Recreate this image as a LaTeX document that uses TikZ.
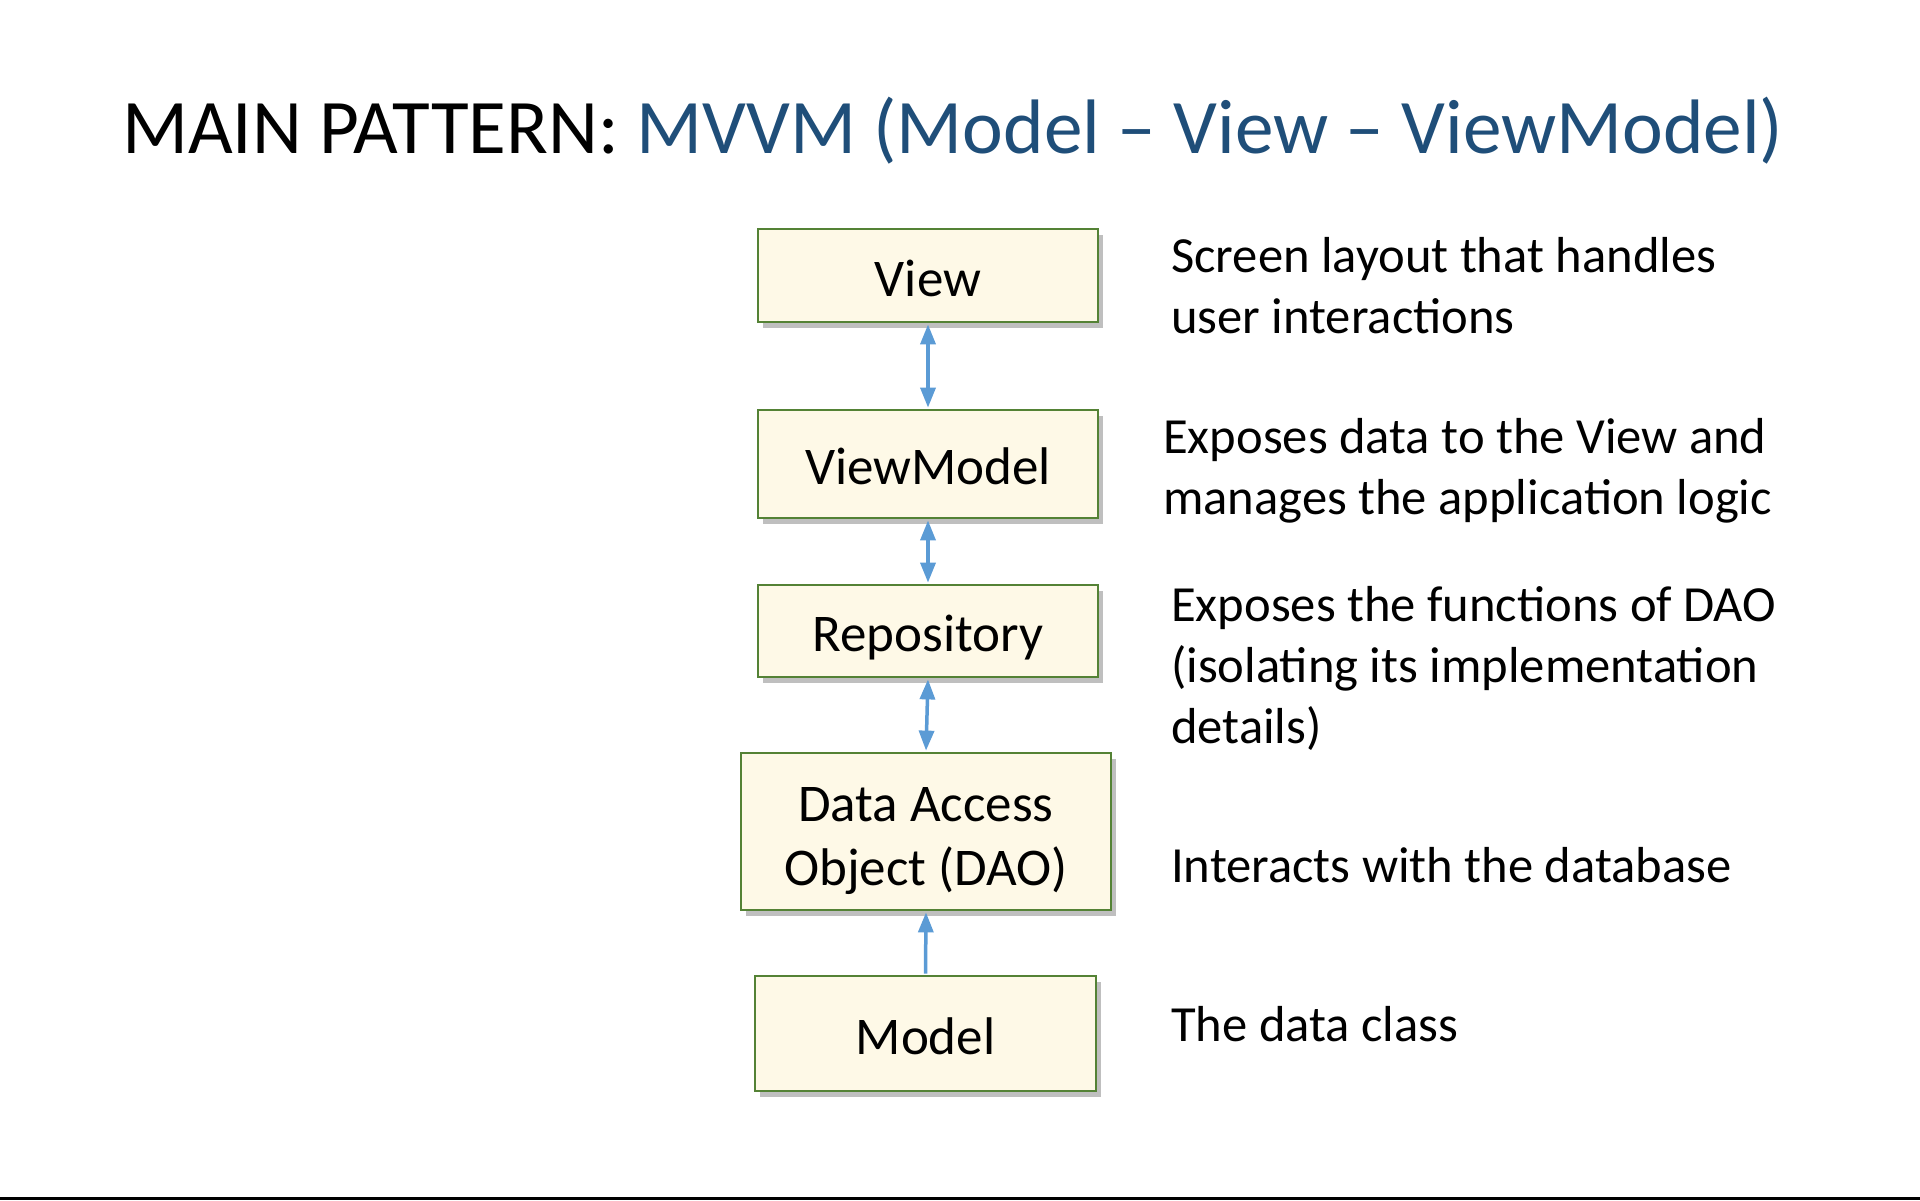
\documentclass[tikz,border=0pt]{standalone}
\usepackage{fontspec}
\setmainfont{Carlito}
\usetikzlibrary{arrows.meta,shadows}
\definecolor{titleblue}{HTML}{1F4E79}
\definecolor{boxfill}{HTML}{FEF9E7}
\definecolor{boxline}{HTML}{548235}
\definecolor{arrowblue}{HTML}{5B9BD5}
\tikzset{
  layerbox/.style={draw=boxline, line width=2.8pt, fill=boxfill, inner sep=0pt,
    minimum width=340pt, align=center, font=\fontsize{53}{64}\selectfont,
    text height=41pt, text depth=0pt,
    drop shadow={shadow xshift=5pt, shadow yshift=-6pt, fill=black, opacity=0.25}},
  link/.style={draw=arrowblue, line width=3.5pt, shorten <=1pt, shorten >=1pt},
  twohead/.style={link, {Triangle[length=20pt,width=15pt]}-{Triangle[length=20pt,width=15pt]}},
  onehead/.style={link, -{Triangle[length=20pt,width=15pt]}},
  desc/.style={anchor=base west, inner sep=0pt, align=left, font=\fontsize{50.6}{61}\selectfont}
}
\begin{document}
\begin{tikzpicture}[x=1pt,y=-1pt]
\useasboundingbox (0,0) rectangle (1920,1200);
\fill[white] (0,0) rectangle (1920,1200);
\fill[black] (0,1197) rectangle (1920,1200);
\node[anchor=base west, inner sep=0pt, font=\fontsize{77.2}{90}\selectfont] (title) at (122,153)
  {MAIN PATTERN: \textcolor{titleblue}{MVVM (Model – View – ViewModel)}};
\node[layerbox, minimum height=93pt] (view) at (928,275.5) {View};
\node[layerbox, minimum height=108pt] (vm) at (928,464) {ViewModel};
\node[layerbox, minimum height=92pt] (repo) at (928,631) {Repository};
\node[layerbox, minimum width=370pt, minimum height=157pt, text height=107pt] (dao) at (926,831.5) {Data Access\\Object (DAO)};
\node[layerbox, minimum width=341pt, minimum height=115pt] (model) at (925.5,1033.5) {Model};
\draw[twohead] (view.south) -- (vm.north);
\draw[twohead] (vm.south) -- (repo.north);
\draw[twohead] (repo.south) -- (dao.north);
\draw[onehead] (model.north) -- (dao.south);
\node[desc] (d1) at (1171,333) {Screen layout that handles\\user interactions};
\node[desc] (d2) at (1163,514) {Exposes data to the View and\\manages the application logic};
\node[desc] (d3) at (1171,743) {Exposes the functions of DAO\\(isolating its implementation\\details)};
\node[desc] (d4) at (1171,882) {Interacts with the database};
\node[desc] (d5) at (1171,1041) {The data class};
\end{tikzpicture}
\end{document}
